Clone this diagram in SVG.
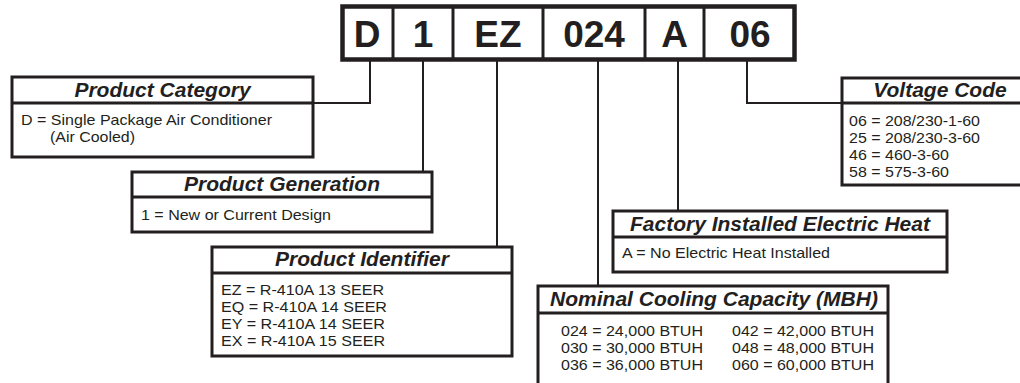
<svg xmlns="http://www.w3.org/2000/svg" width="1020" height="383" viewBox="0 0 1020 383">
<style>
.bg{fill:#fff}
.box{fill:#fff;stroke:#231f20;stroke-width:3}
.hl{stroke:#231f20;stroke-width:3}
.con{fill:none;stroke:#231f20;stroke-width:2}
.code{font-family:"Liberation Sans",Arial,sans-serif;font-weight:bold;font-size:37px;fill:#231f20;text-anchor:middle}
.hd{font-family:"Liberation Sans",Arial,sans-serif;font-weight:bold;font-style:italic;font-size:21px;fill:#231f20;text-anchor:middle}
.tx{font-family:"Liberation Sans",Arial,sans-serif;font-size:14.5px;fill:#231f20}
</style>
<rect class="bg" x="0" y="0" width="1020" height="383"/>
<g id="connectors">
<path class="con" d="M370 61 V103 H313"/>
<path class="con" d="M423 61 V172"/>
<path class="con" d="M497 61 V247"/>
<path class="con" d="M598 61 V286"/>
<path class="con" d="M678 61 V211"/>
<path class="con" d="M747 61 V103 H842"/>
</g>
<g id="model-code">
<rect x="342.5" y="6.5" width="452" height="53" fill="#fff" stroke="#231f20" stroke-width="4.5"/>
<line class="hl" x1="393" y1="6" x2="393" y2="60"/>
<line class="hl" x1="453" y1="6" x2="453" y2="60"/>
<line class="hl" x1="543" y1="6" x2="543" y2="60"/>
<line class="hl" x1="645" y1="6" x2="645" y2="60"/>
<line class="hl" x1="704" y1="6" x2="704" y2="60"/>
<text class="code" x="367" y="47">D</text>
<text class="code" x="423" y="47">1</text>
<text class="code" x="498" y="47">EZ</text>
<text class="code" x="594" y="47">024</text>
<text class="code" x="674.5" y="47">A</text>
<text class="code" x="750" y="47">06</text>
</g>
<g id="product-category">
<rect class="box" x="12" y="77" width="301" height="80"/>
<line class="hl" x1="12" y1="103" x2="313" y2="103"/>
<text class="hd" x="162.5" y="97">Product Category</text>
<text class="tx" x="21" y="125" textLength="251" lengthAdjust="spacingAndGlyphs">D = Single Package Air Conditioner</text>
<text class="tx" x="50" y="142" textLength="85" lengthAdjust="spacingAndGlyphs">(Air Cooled)</text>
</g>
<g id="product-generation">
<rect class="box" x="132" y="172" width="300" height="60"/>
<line class="hl" x1="132" y1="197" x2="432" y2="197"/>
<text class="hd" x="282" y="191">Product Generation</text>
<text class="tx" x="141" y="220" textLength="190" lengthAdjust="spacingAndGlyphs">1 = New or Current Design</text>
</g>
<g id="product-identifier">
<rect class="box" x="212" y="247" width="300" height="109"/>
<line class="hl" x1="212" y1="273" x2="512" y2="273"/>
<text class="hd" x="362" y="266">Product Identifier</text>
<text class="tx" x="221" y="295" textLength="163" lengthAdjust="spacingAndGlyphs">EZ = R-410A 13 SEER</text>
<text class="tx" x="221" y="312" textLength="166" lengthAdjust="spacingAndGlyphs">EQ = R-410A 14 SEER</text>
<text class="tx" x="221" y="329" textLength="164" lengthAdjust="spacingAndGlyphs">EY = R-410A 14 SEER</text>
<text class="tx" x="221" y="346" textLength="164" lengthAdjust="spacingAndGlyphs">EX = R-410A 15 SEER</text>
</g>
<g id="nominal-cooling-capacity">
<rect class="box" x="538" y="286" width="350" height="110"/>
<line class="hl" x1="538" y1="313" x2="888" y2="313"/>
<text class="hd" x="714" y="306" font-size="21.5">Nominal Cooling Capacity (MBH)</text>
<text class="tx" x="561" y="336" textLength="142" lengthAdjust="spacingAndGlyphs">024 = 24,000 BTUH</text>
<text class="tx" x="561" y="353" textLength="142" lengthAdjust="spacingAndGlyphs">030 = 30,000 BTUH</text>
<text class="tx" x="561" y="370" textLength="142" lengthAdjust="spacingAndGlyphs">036 = 36,000 BTUH</text>
<text class="tx" x="732" y="336" textLength="142" lengthAdjust="spacingAndGlyphs">042 = 42,000 BTUH</text>
<text class="tx" x="732" y="353" textLength="142" lengthAdjust="spacingAndGlyphs">048 = 48,000 BTUH</text>
<text class="tx" x="732" y="370" textLength="142" lengthAdjust="spacingAndGlyphs">060 = 60,000 BTUH</text>
</g>
<g id="factory-installed-electric-heat">
<rect class="box" x="613" y="211" width="334" height="61"/>
<line class="hl" x1="613" y1="237" x2="947" y2="237"/>
<text class="hd" x="780" y="231">Factory Installed Electric Heat</text>
<text class="tx" x="622" y="258" textLength="208" lengthAdjust="spacingAndGlyphs">A = No Electric Heat Installed</text>
</g>
<g id="voltage-code">
<rect class="box" x="842" y="78" width="196" height="107"/>
<line class="hl" x1="842" y1="103" x2="1038" y2="103"/>
<text class="hd" x="940" y="97">Voltage Code</text>
<text class="tx" x="849" y="126" textLength="131" lengthAdjust="spacingAndGlyphs">06 = 208/230-1-60</text>
<text class="tx" x="849" y="143" textLength="131" lengthAdjust="spacingAndGlyphs">25 = 208/230-3-60</text>
<text class="tx" x="849" y="160" textLength="100" lengthAdjust="spacingAndGlyphs">46 = 460-3-60</text>
<text class="tx" x="849" y="177" textLength="100" lengthAdjust="spacingAndGlyphs">58 = 575-3-60</text>
</g>
</svg>
